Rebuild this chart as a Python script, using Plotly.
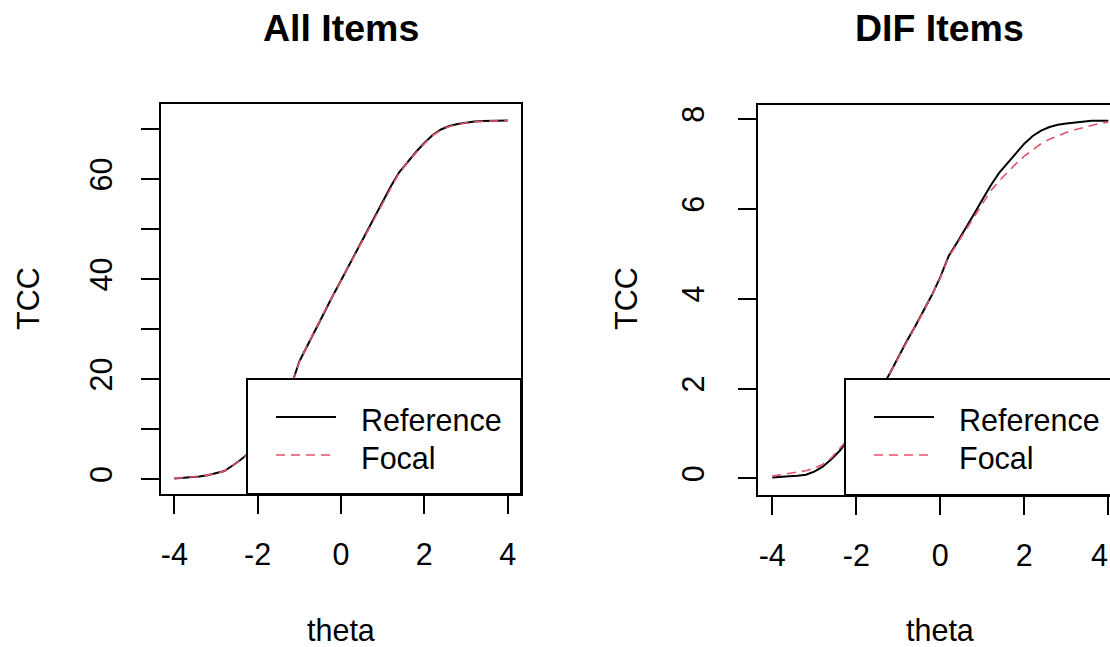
import plotly.graph_objects as go

# ---------------- data ----------------
theta = [-4.0, -3.8, -3.6, -3.4, -3.2, -3.0, -2.8, -2.6, -2.4, -2.2, -2.0,
         -1.8, -1.6, -1.4, -1.2, -1.0, -0.8, -0.6, -0.4, -0.2, 0.0,
         0.2, 0.4, 0.6, 0.8, 1.0, 1.2, 1.4, 1.6, 1.8, 2.0,
         2.2, 2.4, 2.6, 2.8, 3.0, 3.2, 3.4, 3.6, 3.8, 4.0]

all_reference = [0.1, 0.2, 0.3, 0.5, 0.75, 1.1, 1.6, 2.7, 3.9, 5.3, 7.0,
                 9.0, 11.5, 14.5, 18.5, 23.5, 26.8, 30.3, 33.5, 36.6, 39.7,
                 42.9, 46.0, 49.0, 52.2, 55.4, 58.6, 61.4, 63.5, 65.4, 67.2,
                 68.8, 69.9, 70.6, 71.0, 71.3, 71.5, 71.6, 71.65, 71.7, 71.7]
all_focal = [0.12, 0.22, 0.33, 0.52, 0.78, 1.12, 1.62, 2.7, 3.9, 5.3, 7.0,
             9.0, 11.5, 14.5, 18.5, 23.4, 26.8, 30.3, 33.5, 36.6, 39.7,
             42.9, 46.0, 49.0, 52.2, 55.3, 58.5, 61.3, 63.4, 65.3, 67.1,
             68.7, 69.8, 70.5, 70.95, 71.25, 71.45, 71.55, 71.62, 71.66, 71.68]

dif_reference = [0.02, 0.04, 0.05, 0.06, 0.08, 0.15, 0.26, 0.42, 0.61, 0.85, 1.1,
                 1.38, 1.68, 2.0, 2.34, 2.7, 3.05, 3.38, 3.72, 4.08, 4.48,
                 4.95, 5.25, 5.55, 5.88, 6.2, 6.52, 6.8, 7.02, 7.22, 7.45,
                 7.62, 7.74, 7.82, 7.87, 7.9, 7.92, 7.94, 7.96, 7.96, 7.96]
dif_focal = [0.05, 0.08, 0.1, 0.13, 0.17, 0.23, 0.31, 0.45, 0.65, 0.87, 1.1,
             1.38, 1.68, 2.0, 2.34, 2.7, 3.05, 3.38, 3.72, 4.08, 4.47,
             4.93, 5.23, 5.52, 5.83, 6.12, 6.4, 6.62, 6.82, 7.0, 7.17,
             7.32, 7.45, 7.55, 7.63, 7.7, 7.76, 7.81, 7.86, 7.9, 7.93]

x_ticks = [-4, -2, 0, 2, 4]
all_y_ticks = [0, 10, 20, 30, 40, 50, 60, 70]
all_y_labels = ["0", "", "20", "", "40", "", "60", ""]
dif_y_ticks = [0, 2, 4, 6, 8]
dif_y_labels = ["0", "2", "4", "6", "8"]

panel_titles = ["All Items", "DIF Items"]
series_names = ["Reference", "Focal"]

# ---------------- styling ----------------
W, H = 1110, 647
FONT = "Liberation Sans, Arial, sans-serif"
FS = 30.5
REF_COLOR = "black"
FOC_COLOR = "#DF536B"
FOC_DASH = "9px,6px"


def px(v):
    return v / W


def py(v):
    return 1 - v / H


fig = go.Figure()

fig.add_trace(go.Scatter(x=theta, y=all_reference, mode="lines", name=series_names[0],
                         line=dict(color=REF_COLOR, width=2), xaxis="x", yaxis="y",
                         showlegend=False))
fig.add_trace(go.Scatter(x=theta, y=all_focal, mode="lines", name=series_names[1],
                         line=dict(color=FOC_COLOR, width=1.6, dash=FOC_DASH),
                         xaxis="x", yaxis="y", showlegend=False))
fig.add_trace(go.Scatter(x=theta, y=dif_reference, mode="lines", name=series_names[0],
                         line=dict(color=REF_COLOR, width=2), xaxis="x2", yaxis="y2",
                         showlegend=False))
fig.add_trace(go.Scatter(x=theta, y=dif_focal, mode="lines", name=series_names[1],
                         line=dict(color=FOC_COLOR, width=1.6, dash=FOC_DASH),
                         xaxis="x2", yaxis="y2", showlegend=False))

axis_common = dict(showgrid=False, zeroline=False, showline=True, linecolor="black",
                   linewidth=2, ticks="outside", ticklen=18, tickwidth=2,
                   tickcolor="black",
                   tickfont=dict(family=FONT, size=FS, color="black"))

fig.update_layout(
    width=W, height=H,
    margin=dict(l=0, r=0, t=0, b=0),
    paper_bgcolor="white", plot_bgcolor="white",
    showlegend=False,
    xaxis=dict(domain=[px(161), px(521)], range=[-4.32, 4.32], tickvals=x_ticks,
               ticktext=[str(t) for t in x_ticks], mirror=True, anchor="y",
               ticklabelstandoff=14, **axis_common),
    yaxis=dict(domain=[py(494), py(104)], range=[-3.0, 75.0], tickvals=all_y_ticks,
               ticktext=all_y_labels, tickangle=-90, mirror=True, anchor="x",
               ticklabelstandoff=17, **axis_common),
    xaxis2=dict(domain=[px(758), 1.0], range=[-4.34, 4.04], tickvals=x_ticks,
                ticktext=[str(t) for t in x_ticks], mirror=True, anchor="y2",
                ticklabelstandoff=14, **axis_common),
    yaxis2=dict(domain=[py(495), py(105)], range=[-0.37, 8.31], tickvals=dif_y_ticks,
                ticktext=dif_y_labels, tickangle=-90, mirror=False, anchor="x2",
                ticklabelstandoff=22, **axis_common),
)

annotations = []
# panel titles
for cx, t in [(341, panel_titles[0]), (939, panel_titles[1])]:
    annotations.append(dict(text="<b>%s</b>" % t, x=px(cx), y=py(28), xref="paper", yref="paper",
                            showarrow=False, xanchor="center", yanchor="middle",
                            font=dict(family=FONT, size=37.5, color="black")))
# axis titles
for cx in [341, 940]:
    annotations.append(dict(text="theta", x=px(cx), y=py(630), xref="paper", yref="paper",
                            showarrow=False, xanchor="center", yanchor="middle",
                            font=dict(family=FONT, size=FS, color="black")))
for cx in [28, 626]:
    annotations.append(dict(text="TCC", x=px(cx), y=py(299), xref="paper", yref="paper",
                            showarrow=False, xanchor="center", yanchor="middle", textangle=-90,
                            font=dict(family=FONT, size=FS, color="black")))
# last x tick label of the right panel, which sits on the page edge
annotations.append(dict(text=str(x_ticks[-1]), x=1.0, y=py(555), xref="paper", yref="paper",
                        showarrow=False, xanchor="right", yanchor="middle",
                        font=dict(family=FONT, size=FS, color="black")))

shapes = []
# legend boxes (bottom-right of each panel)
legend_boxes = [(247, 379, 521, 494), (845, 379, 1125, 495)]
for (x0, y0, x1, y1) in legend_boxes:
    shapes.append(dict(type="rect", xref="paper", yref="paper", x0=px(x0), x1=px(x1),
                       y0=py(y1), y1=py(y0), fillcolor="white",
                       line=dict(color="black", width=2), layer="above"))
    lx0 = x0 + 29
    lx1 = lx0 + 60
    shapes.append(dict(type="line", xref="paper", yref="paper", x0=px(lx0), x1=px(lx1),
                       y0=py(417), y1=py(417), line=dict(color=REF_COLOR, width=2),
                       layer="above"))
    shapes.append(dict(type="line", xref="paper", yref="paper", x0=px(lx0), x1=px(lx1),
                       y0=py(455), y1=py(455), line=dict(color=FOC_COLOR, width=1.6, dash=FOC_DASH),
                       layer="above"))
    annotations.append(dict(text=series_names[0], x=px(x0 + 112), y=py(420), xref="paper",
                            yref="paper", showarrow=False, xanchor="left", yanchor="middle",
                            font=dict(family=FONT, size=FS, color="black")))
    annotations.append(dict(text=series_names[1], x=px(x0 + 112), y=py(458), xref="paper",
                            yref="paper", showarrow=False, xanchor="left", yanchor="middle",
                            font=dict(family=FONT, size=FS, color="black")))

fig.update_layout(annotations=annotations, shapes=shapes)

fig.write_html("out.html")
